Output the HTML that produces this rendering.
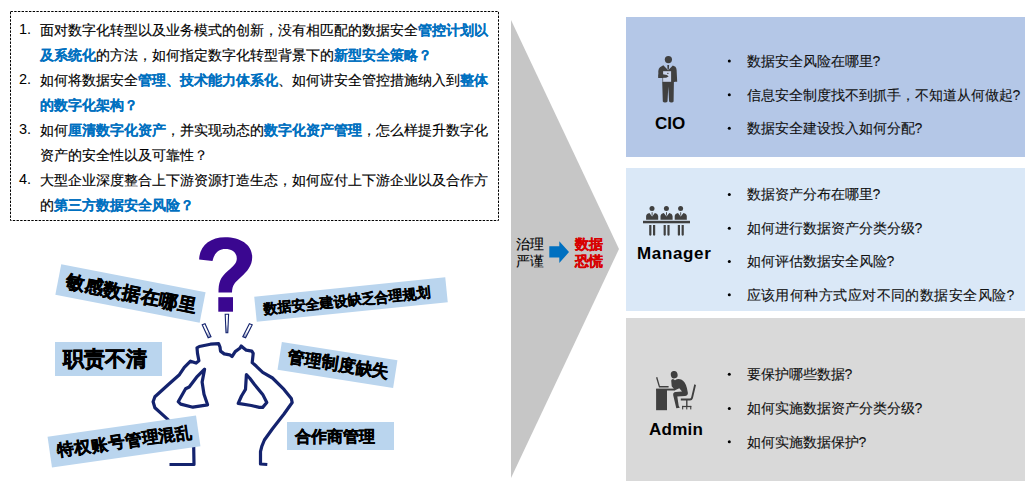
<!DOCTYPE html>
<html><head><meta charset="utf-8">
<style>
html,body{margin:0;padding:0;background:#fff;}
body{width:1031px;height:489px;position:relative;overflow:hidden;font-family:"Liberation Sans",sans-serif;color:#222;}
.a{position:absolute;white-space:nowrap;}
.box{position:absolute;left:10px;top:11px;width:487px;height:208px;border:1px dashed #000;}
.ln{position:absolute;left:40px;font-size:14px;line-height:26px;white-space:nowrap;color:#000;-webkit-text-stroke:0.15px #000;}
.num{position:absolute;left:19px;margin-top:-1.2px;font-size:14.5px;line-height:26px;color:#000;}
.b{color:#0070c0;font-weight:bold;-webkit-text-stroke:0.05px #0070c0;}
.lbl{position:absolute;background:#bad5ee;font-weight:bold;color:#000;-webkit-text-stroke:0.6px #000;white-space:nowrap;text-align:left;}
.pan{position:absolute;left:626px;width:399px;}
.bul{position:absolute;left:727px;font-size:14px;line-height:20px;color:#222;}
.tx{position:absolute;left:746.5px;font-size:14px;line-height:20px;color:#111;-webkit-text-stroke:0.12px #111;white-space:nowrap;}
.role{position:absolute;font-size:17px;font-weight:bold;color:#000;line-height:20px;white-space:nowrap;}
</style></head><body>

<!-- dashed text box -->
<svg class="a" style="left:0;top:0" width="510" height="230"><rect x="10.5" y="11.5" width="488" height="209" fill="none" stroke="#000" stroke-width="1" stroke-dasharray="2.4 1.3"/></svg>
<div class="num" style="top:17px">1.</div>
<div class="ln" style="top:17px">面对数字化转型以及业务模式的创新，没有相匹配的数据安全<span class="b">管控计划以</span></div>
<div class="ln" style="top:42px"><span class="b">及系统化</span>的方法，如何指定数字化转型背景下的<span class="b">新型安全策略？</span></div>
<div class="num" style="top:67px">2.</div>
<div class="ln" style="top:67px">如何将数据安全<span class="b">管理、技术能力体系化</span>、如何讲安全管控措施纳入到<span class="b">整体</span></div>
<div class="ln" style="top:92px"><span class="b">的数字化架构？</span></div>
<div class="num" style="top:117px">3.</div>
<div class="ln" style="top:117px">如何<span class="b">厘清数字化资产</span>，并实现动态的<span class="b">数字化资产管理</span>，怎么样提升数字化</div>
<div class="ln" style="top:142px">资产的安全性以及可靠性？</div>
<div class="num" style="top:167px">4.</div>
<div class="ln" style="top:167px">大型企业深度整合上下游资源打造生态，如何应付上下游企业以及合作方</div>
<div class="ln" style="top:192px">的<span class="b">第三方数据安全风险？</span></div>

<!-- chevron -->
<svg class="a" style="left:0;top:0" width="1031" height="489">
<polygon points="511,20 619,249 511,478" fill="#c6c6c6"/>
<polygon points="549.3,246.3 559.3,246.3 559.3,241.2 569,252.1 559.3,263 559.3,257.6 549.3,257.6" fill="#0070c0"/>
</svg>
<div class="a" style="left:516px;top:236px;font-size:14px;line-height:17px;color:#000;-webkit-text-stroke:0.12px #000">治理<br>严谨</div>
<div class="a" style="left:575.3px;top:236px;font-size:14px;line-height:17px;color:#d80000;font-weight:bold;-webkit-text-stroke:0.25px #d80000">数据<br>恐慌</div>

<!-- panels -->
<div class="pan" style="top:17px;height:140px;background:#b4c7e7"></div>
<div class="pan" style="top:168px;height:143px;background:#dae8f7"></div>
<div class="pan" style="top:318px;height:163px;background:#d9d9d9"></div>

<!-- CIO -->
<div class="tx" style="top:51px">数据安全风险在哪里?</div>
<div class="tx" style="top:85px">信息安全制度找不到抓手，不知道从何做起?</div>
<div class="tx" style="top:118px">数据安全建设投入如何分配?</div>
<div class="role" style="left:655px;top:114px">CIO</div>

<!-- Manager -->
<div class="tx" style="top:184px">数据资产分布在哪里?</div>
<div class="tx" style="top:218px">如何进行数据资产分类分级?</div>
<div class="tx" style="top:251px">如何评估数据安全风险?</div>
<div class="tx" style="top:285px;letter-spacing:0.45px">应该用何种方式应对不同的数据安全风险?</div>
<div class="role" style="left:637px;top:244px;letter-spacing:0.65px">Manager</div>

<!-- Admin -->
<div class="tx" style="top:364px">要保护哪些数据?</div>
<div class="tx" style="top:398px">如何实施数据资产分类分级?</div>
<div class="tx" style="top:432px">如何实施数据保护?</div>
<div class="role" style="left:649px;top:420px;letter-spacing:0.25px">Admin</div>

<!-- icons -->
<svg class="a" style="left:0;top:0" width="1031" height="489"><g fill="#000"><circle cx="729.3" cy="61" r="1.5"/><circle cx="729.3" cy="94.8" r="1.5"/><circle cx="729.3" cy="128.3" r="1.5"/><circle cx="729.3" cy="194.4" r="1.5"/><circle cx="729.3" cy="228.2" r="1.5"/><circle cx="729.3" cy="261.4" r="1.5"/><circle cx="729.3" cy="294.7" r="1.5"/><circle cx="729.3" cy="374.3" r="1.5"/><circle cx="729.3" cy="408.5" r="1.5"/><circle cx="729.3" cy="441.7" r="1.5"/></g></svg>
<svg class="a" style="left:0;top:0" width="1031" height="489">
<g fill="#404040">
 <!-- CIO -->
 <circle cx="668.4" cy="59.6" r="3.6"/>
 <path d="M663.3,65.2 L668.2,70.3 L672.8,65.4 L675.4,66.8 Q676.5,68 676.6,70 L677.2,81.8 L674.8,81.8 L674.6,82 L662.5,82 L662.5,78 L658.4,78 L658.3,71 Q658.5,68.3 660,67.3 Z"/>
 <path d="M667.3,64.9 L669.1,64.9 L668.9,68.8 L668.2,70.3 L667.5,68.8 Z"/>
 <path d="M662.2,82 L673.9,82 L673.6,101.6 Q673,102.6 671.4,102.5 Q669.7,102.5 669.1,101.6 L668.3,86.5 L667.5,101.6 Q666.9,102.5 665.2,102.5 Q663.5,102.6 662.8,101.6 Z"/>
</g>
<g>
 <rect x="663.1" y="71.2" width="8" height="10.6" fill="#c7d2ea"/>
 <rect x="667" y="72.9" width="1.6" height="0.9" fill="#505050"/>
 <path d="M658.4,74.6 L662.6,74.3 L667,75.1 L668.6,76.5 L666.2,77.7 L658.4,78.1 Z" fill="#404040"/>
</g>
<g fill="#404040">
 <!-- Manager -->
 <circle cx="652" cy="208.4" r="2.5"/>
 <path d="M646.1,219.8 L646.1,216 Q646.4,213.4 649.4,212.9 L652.1,216.6 L654.9,212.9 Q657.9,213.4 658.2,216 L658.2,219.8 Z"/>
 <path d="M651.6,212.3 L652.6,212.3 L652.5,215.3 L652.1,215.9 L651.7,215.3 Z"/>
 <path d="M649.2,225 L651.4,225 L651.4,235 Q650.3,236.6 649.2,235 Z"/>
 <path d="M653.0,225 L655.2,225 L655.2,235 Q654.1,236.6 653.0,235 Z"/>
 <circle cx="666.4" cy="208.4" r="2.5"/>
 <path d="M660.5,219.8 L660.5,216 Q660.8,213.4 663.8,212.9 L666.5,216.6 L669.3,212.9 Q672.3,213.4 672.6,216 L672.6,219.8 Z"/>
 <path d="M666.0,212.3 L667.0,212.3 L666.9,215.3 L666.5,215.9 L666.1,215.3 Z"/>
 <path d="M663.6,225 L665.8,225 L665.8,235 Q664.7,236.6 663.6,235 Z"/>
 <path d="M667.4,225 L669.6,225 L669.6,235 Q668.5,236.6 667.4,235 Z"/>
 <circle cx="680.6" cy="208.4" r="2.5"/>
 <path d="M674.7,219.8 L674.7,216 Q675.0,213.4 678.0,212.9 L680.7,216.6 L683.5,212.9 Q686.5,213.4 686.8,216 L686.8,219.8 Z"/>
 <path d="M680.2,212.3 L681.2,212.3 L681.1,215.3 L680.7,215.9 L680.3,215.3 Z"/>
 <path d="M677.8,225 L680.0,225 L680.0,235 Q678.9,236.6 677.8,235 Z"/>
 <path d="M681.6,225 L683.8,225 L683.8,235 Q682.7,236.6 681.6,235 Z"/>
 <rect x="643" y="220.8" width="47" height="2.5"/>
 <!-- Admin -->
 <rect x="656.1" y="389" width="10.9" height="21.2"/>
 <rect x="656.1" y="388.6" width="19" height="1.9"/>
 <path d="M656,377.6 L657.3,377.1 L659.9,386.1 L668.6,386.1 L668.6,387.4 L659,387.4 Z"/>
 <ellipse cx="674.2" cy="374.7" rx="3.4" ry="3.7" transform="rotate(-12 674.2 374.7)"/>
 <path d="M671.2,380.6 Q671.4,379 673,379 L675,380.2 Q678,378.3 681.2,379.6 Q685.2,381.5 686.9,388 L687.9,393 Q687.9,395.7 685,396 L677.3,396.4 L678.7,405.8 L679.8,407.8 L676.3,408.2 L673.2,395.2 Q672.8,392.4 675.6,392.1 L682,391.6 L679.3,388.2 L675,390.3 L671.7,386.2 Z"/>
 <path d="M694.3,384.2 L696,384.9 L692.9,398.2 Q692.3,400.4 690,400.4 L680.8,400.4 L680.8,398.4 L690.2,398.4 Q691,398.4 691.2,397.3 Z"/>
 <rect x="686.1" y="400" width="1.4" height="6.5"/>
 <rect x="682.1" y="405.9" width="9.2" height="1.2"/>
 <rect x="682.1" y="405.9" width="1.1" height="3.5"/><rect x="686.2" y="405.9" width="1.1" height="3.5"/><rect x="690.2" y="405.9" width="1.1" height="3.5"/>
</g>

</svg>

<!-- person outline -->
<svg class="a" style="left:0;top:0" width="1031" height="489">
<g fill="none" stroke="#14236e" stroke-width="3.2" stroke-linejoin="round" stroke-linecap="butt">
<path d="M169.5,464.5 L194,464.5 L193.7,447 L180,432 L167.2,418.9 L154.9,407.8 L153.1,401.7 L154.9,396.8 L168.4,384.5 L179.4,374.7 L184.3,367.4 L190.5,361.2 L196.1,363.1 L198.9,360.8 L197.5,353.4 L197,347.9 L199.3,346.5 L210.4,344.2 L218.6,343.7 L220,347 L220.5,351.1 L224.2,353.9 L229.7,354.8 L232,356.6 L235.2,351.6 L239.8,348.3 L241.2,346 L243.5,347.9 L246.3,350.2 L251.8,351.1 L253.2,353.4 L252.2,362.6 L256.4,366.3 L262.7,372.3 L272.5,378 L284,389.4 L291.3,398.4 L292.2,402.5 L284,414 L272.5,428.7 L264.4,440 L261.8,446.3 L260.5,451.7 L260.5,464 L267.3,464.5"/>
<path d="M204.6,369.2 L196.6,377.2 L189.2,387 L185.6,388.8 L178.2,401.7 L180.7,404.1 L192.9,407.2 L207.6,404.8 L204,394.3 L202.1,382.1 Z"/>
<path d="M246.4,374.7 L249.6,378 L254.5,384.5 L262.7,394.4 L266.8,402.5 L262.7,407.4 L259.4,407.4 L251.3,405.5 L238.2,403.4 L241.5,396 L245.5,389.4 Z"/>
</g>
<!-- small bars -->
<defs><linearGradient id="bg" x1="0" y1="0" x2="0" y2="1"><stop offset="0" stop-color="#fff"/><stop offset="0.55" stop-color="#fff"/><stop offset="1" stop-color="#7d89b5"/></linearGradient></defs>
<g fill="url(#bg)" stroke="#14236e" stroke-width="1.1">
<polygon points="225.2,314.3 228.6,314.3 227.8,332.8 226,332.8"/>
<polygon points="202.2,324.8 205,323.8 211,336.8 208.2,337.8"/>
<polygon points="249.4,323.8 252.2,324.8 245.6,337.8 242.8,336.8"/>
</g>
</svg>

<!-- question mark -->
<svg class="a" style="left:0;top:0" width="300" height="340"><g fill="#3a0790">
<path d="M199.1,259.4 C199.5,246 210,237.2 225,237.2 C241,237.2 252.2,245 252.2,257 C252.2,266 247,271.5 241,277 C235,282.5 232,285 232,292.6 L218.5,292.6 C218.5,283 220,277.5 228,270.8 C234,265.5 236.8,263 236.8,258.5 C236.8,252.5 232,249 225.4,249 C218.5,249 214.5,253 212.5,260.9 Z"/>
<rect x="218.3" y="297.2" width="14.7" height="14.5"/></g></svg>

<!-- labels -->
<div class="lbl" style="left:57px;top:278px;width:147px;height:30.5px;line-height:30.5px;font-size:18.5px;-webkit-text-stroke:0.5px #000;transform:rotate(11deg)"><span style="position:relative;left:8px;top:1px">敏感数据在哪里</span></div>
<div class="lbl" style="left:255px;top:287px;width:192px;height:25px;line-height:25px;font-size:14px;-webkit-text-stroke:0.3px #000;transform:rotate(-5.8deg)"><span style="position:relative;left:8px;top:1.3px">数据安全建设缺乏合理规划</span></div>
<div class="lbl" style="left:55px;top:342px;width:107px;height:34px;line-height:34px;font-size:21px;-webkit-text-stroke:0.55px #000"><span style="position:relative;left:8px;top:0px">职责不清</span></div>
<div class="lbl" style="left:279px;top:351px;width:117px;height:28px;line-height:28px;font-size:16.8px;-webkit-text-stroke:0.4px #000;transform:rotate(8.9deg)"><span style="position:relative;left:8.5px;top:-0.3px">管理制度缺失</span></div>
<div class="lbl" style="left:49px;top:426px;width:150px;height:31px;line-height:31px;font-size:16.6px;-webkit-text-stroke:0.4px #000;transform:rotate(-8.2deg)"><span style="position:relative;left:8px;top:0px">特权账号管理混乱</span></div>
<div class="lbl" style="left:287px;top:422px;width:107px;height:28px;line-height:28px;font-size:16.4px;-webkit-text-stroke:0.4px #000"><span style="position:relative;left:8px;top:0px">合作商管理</span></div>

</body></html>
